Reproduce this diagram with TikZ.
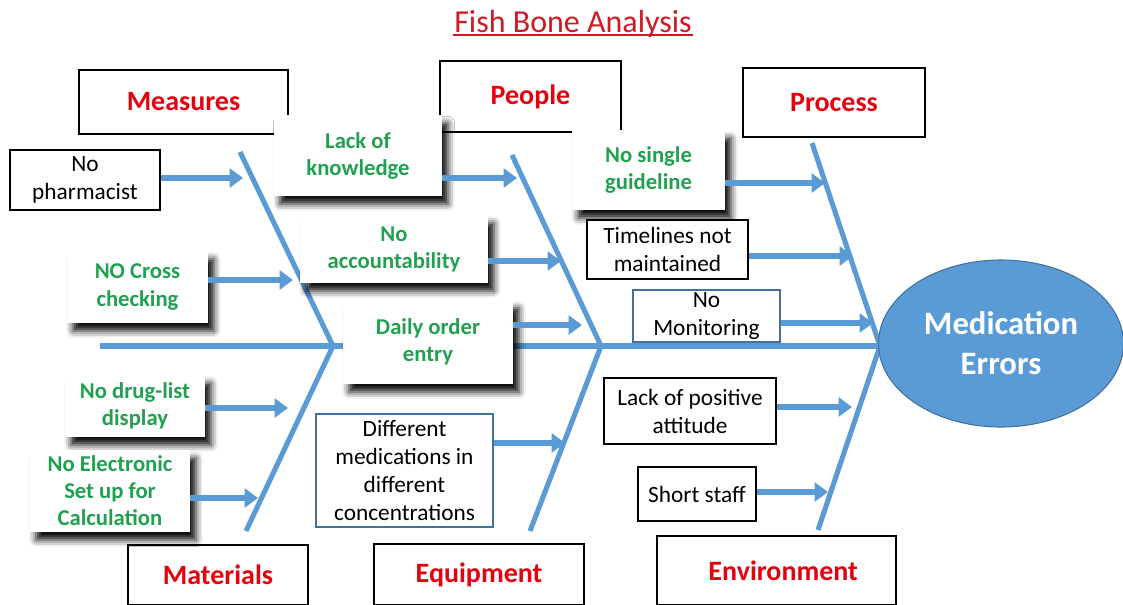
\documentclass[tikz,border=0pt]{standalone}
\usepackage{fontspec}
\setmainfont{Carlito}
\usepackage{tikz}
\usetikzlibrary{arrows.meta,shapes.geometric,shadows.blur}

\definecolor{boneblue}{HTML}{5B9BD5}
\definecolor{edgeblue}{HTML}{41719C}
\definecolor{labelred}{HTML}{E3000F}
\definecolor{titlered}{HTML}{CF1A24}
\definecolor{causegreen}{HTML}{21A150}

\tikzset{
  boxsize/.style 2 args={minimum width=#1*0.75pt, minimum height=#2*0.75pt},
  catbox/.style={draw, line width=1pt, fill=white, inner sep=0pt, text=labelred,
    font=\fontsize{21}{25}\selectfont\bfseries},
  causebox/.style={draw, line width=0.9pt, fill=white, inner sep=0pt, align=center,
    font=\fontsize{17.5}{21}\selectfont},
  shadebox/.style={fill=white, inner sep=0pt, align=center, text=causegreen,
    font=\fontsize{17}{20.3}\selectfont\bfseries,
    blur shadow={shadow xshift=4.5pt, shadow yshift=-6pt, shadow blur radius=5pt, shadow opacity=95}},
  bone/.style={boneblue, line width=3.8pt},
  carrow/.style={boneblue, line width=4.4pt, -{Triangle[length=10pt, width=14pt]}},
}

\begin{document}
\begin{tikzpicture}[x=0.75pt,y=-0.75pt]
\useasboundingbox (0,0) rectangle (1123,604);
\clip (0,0) rectangle (1123,604);
% Title
\node[anchor=base, inner sep=1pt, text=titlered, font=\fontsize{24}{28}\selectfont] (title) at (573,32) {Fish Bone Analysis};
\draw[titlered, line width=1.1pt] ([yshift=-2.2pt]title.base west) -- ([yshift=-2.2pt]title.base east);
% Categories
\node[catbox, boxsize={209}{64}] (meas) at (183.5,102) {Measures};
\node[catbox, boxsize={181}{71}] (people) at (530.5,96.5) {People};
\node[catbox, boxsize={182}{69}] (proc) at (834,102.5) {Process};
\node[catbox, boxsize={180}{60}] (mat) at (218,575) {Materials};
\node[catbox, boxsize={210}{61}] (equip) at (479,574.5) {Equipment};
\node[catbox, boxsize={239}{69}] (env) at (776.5,570.5) {\hspace*{10pt}Environment};
% Spine and bones
\coordinate (tail) at (100,346);
\coordinate (head) at (1000,346);
\coordinate (jL) at (333,346);
\coordinate (jM) at (601,346);
\coordinate (jR) at (880,346);
\coordinate (measTop) at (240,152);
\coordinate (matBot) at (246,531);
\coordinate (peopTop) at (512,155);
\coordinate (equipBot) at (530,531);
\coordinate (procTop) at (812,143);
\coordinate (envBot) at (818,530);
\draw[bone] (tail) -- (head);
\draw[bone] (measTop) -- (jL) -- (matBot);
\draw[bone] (peopTop) -- (jM) -- (equipBot);
\draw[bone] (procTop) -- (jR) -- (envBot);
% Causes
\node[causebox, boxsize={150}{60}] (pharm) at (85,180) {No\\pharmacist};
\node[shadebox, boxsize={141}{72}] (cross) at (137.5,287) {NO Cross\\checking};
\node[shadebox, boxsize={140}{62}] (drug) at (135,406) {No drug-list\\display};
\node[shadebox, boxsize={160}{82}] (elec) at (110,491) {No Electronic\\Set up for\\Calculation};
\node[shadebox, boxsize={168}{81}] (lack) at (358,155.5) {Lack of\\knowledge};
\node[shadebox, boxsize={188}{68}] (acct) at (394,249) {No\\accountability};
\node[shadebox, boxsize={170}{84}] (daily) at (428,342) {Daily order\\entry};
\node[causebox, draw=edgeblue, boxsize={177}{113}] (diff) at (404.5,470.5) {Different\\medications in\\different\\concentrations};
\node[shadebox, boxsize={153}{80}] (guide) at (648.5,170) {No single\\guideline};
\node[causebox, boxsize={161}{59}] (timel) at (667.5,249.5) {Timelines not\\maintained};
\node[causebox, draw=edgeblue, boxsize={147}{52}] (monit) at (706.5,316) {No\\Monitoring};
\node[causebox, boxsize={172}{66}] (posatt) at (690,411) {Lack of positive\\attitude};
\node[causebox, boxsize={118}{54}] (short) at (697,494) {Short staff};
% Arrows to the bones
\coordinate (pharm-h) at (243,178);
\coordinate (cross-h) at (293,280);
\coordinate (drug-h) at (288,408);
\coordinate (elec-h) at (258,498);
\coordinate (lack-h) at (517,178);
\coordinate (acct-h) at (561,261);
\coordinate (daily-h) at (582,325);
\coordinate (diff-h) at (565,443);
\coordinate (guide-h) at (825,183);
\coordinate (timel-h) at (853,256);
\coordinate (monit-h) at (873,323);
\coordinate (posatt-h) at (852,407);
\coordinate (short-h) at (828,492);
\foreach \c in {pharm,cross,drug,elec,lack,acct,daily,diff,guide,timel,monit,posatt,short}
  \draw[carrow] (\c.east |- \c-h) -- (\c-h);
% Effect
\node[ellipse, fill=boneblue, draw=edgeblue, line width=0.8pt, boxsize={245}{167}, inner sep=0pt,
  text=white, align=center, font=\fontsize{24.5}{30}\selectfont\bfseries] (err) at (1001,343.5) {Medication\\Errors};
\end{tikzpicture}
\end{document}
